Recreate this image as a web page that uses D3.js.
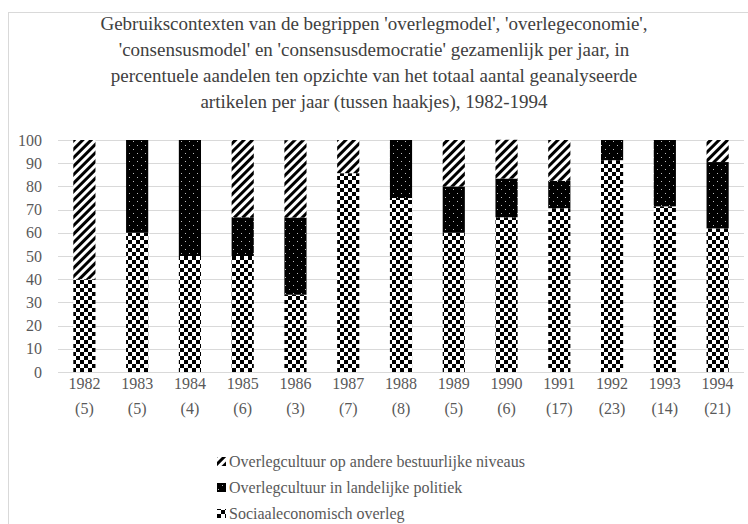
<!DOCTYPE html>
<html>
<head>
<meta charset="utf-8">
<script src="https://cdn.jsdelivr.net/npm/d3@7"></script>
<style>
body { margin: 0; background: #fff; }
#chart { position: relative; width: 748px; height: 524px; overflow: hidden; }
#chart svg { display: block; position: absolute; left: 0; top: 0; }
#title { position: absolute; left: 0; top: 11px; width: 748px; text-align: center;
  font-family: "Liberation Serif"; font-size: 19px; line-height: 26px; color: #404040; }
</style>
</head>
<body>
<div id="chart"></div>
<script>
var years = ["1982", "1983", "1984", "1985", "1986", "1987", "1988", "1989", "1990", "1991", "1992", "1993", "1994"];
var counts = ["(5)", "(5)", "(4)", "(6)", "(3)", "(7)", "(8)", "(5)", "(6)", "(17)", "(23)", "(14)", "(21)"];
var sociaal = [40, 60, 50, 50, 33.3, 85.7, 75, 60, 66.7, 70.6, 91.3, 71.4, 61.9];
var landelijk = [0, 40, 50, 16.7, 33.3, 0, 25, 20, 16.7, 11.8, 8.7, 28.6, 28.6];
var andere = [60, 0, 0, 33.3, 33.3, 14.3, 0, 20, 16.7, 17.6, 0, 0, 9.5];
var seriesNames = ["Overlegcultuur op andere bestuurlijke niveaus", "Overlegcultuur in landelijke politiek", "Sociaaleconomisch overleg"];
var yTicks = [0, 10, 20, 30, 40, 50, 60, 70, 80, 90, 100];
var titleLines = [
  "Gebruikscontexten van de begrippen 'overlegmodel', 'overlegeconomie',",
  "'consensusmodel' en 'consensusdemocratie' gezamenlijk per jaar, in",
  "percentuele aandelen ten opzichte van het totaal aantal geanalyseerde",
  "artikelen per jaar (tussen haakjes), 1982-1994"
];

var width = 748, height = 524;
var margin = {top: 140, right: 4, bottom: 152, left: 58};
var serif = "Liberation Serif";

var svg = d3.select("#chart").append("svg")
  .attr("width", width)
  .attr("height", height)
  .attr("font-family", serif);

// title as html on top of the svg
d3.select("#chart").append("div")
  .attr("id", "title")
  .selectAll("div")
  .data(titleLines)
  .enter().append("div")
  .text(function (d) { return d; });

// patterns
var defs = svg.append("defs");
var checker = defs.append("pattern")
  .attr("id", "pSoc")
  .attr("patternUnits", "userSpaceOnUse")
  .attr("width", 8).attr("height", 8);
checker.append("rect").attr("width", 8).attr("height", 8).attr("fill", "#fff");
checker.append("rect").attr("width", 4).attr("height", 4).attr("fill", "#000");
checker.append("rect").attr("x", 4).attr("y", 4).attr("width", 4).attr("height", 4).attr("fill", "#000");

var dots = defs.append("pattern")
  .attr("id", "pLand")
  .attr("patternUnits", "userSpaceOnUse")
  .attr("width", 8).attr("height", 8);
dots.append("rect").attr("width", 8).attr("height", 8).attr("fill", "#000");
dots.append("rect").attr("x", 1).attr("y", 1).attr("width", 1).attr("height", 1).attr("fill", "#bbb");
dots.append("rect").attr("x", 5).attr("y", 5).attr("width", 1).attr("height", 1).attr("fill", "#bbb");

var stripes = defs.append("pattern")
  .attr("id", "pAndere")
  .attr("patternUnits", "userSpaceOnUse")
  .attr("width", 6).attr("height", 6)
  .attr("patternTransform", "rotate(45)");
stripes.append("rect").attr("width", 6).attr("height", 6).attr("fill", "#fff");
stripes.append("rect").attr("width", 3).attr("height", 6).attr("fill", "#000");

var fills = ["url(#pAndere)", "url(#pLand)", "url(#pSoc)"];

// outer border
svg.append("rect")
  .attr("x", 8.5).attr("y", 12.5)
  .attr("width", 760).attr("height", 540)
  .attr("fill", "none")
  .attr("stroke", "#d9d9d9");

var x = d3.scaleBand()
  .domain(years)
  .range([margin.left, width - margin.right])
  .paddingInner(0.58)
  .paddingOuter(0.29);

var y = d3.scaleLinear()
  .domain([0, 100])
  .range([height - margin.bottom, margin.top]);

// gridlines
svg.append("g").selectAll("line")
  .data(yTicks)
  .enter().append("line")
  .attr("x1", margin.left)
  .attr("x2", width - margin.right)
  .attr("y1", function (d) { return Math.round(y(d)) + 0.5; })
  .attr("y2", function (d) { return Math.round(y(d)) + 0.5; })
  .attr("stroke", "#d9d9d9");

var yAxis = svg.append("g")
  .attr("transform", "translate(" + (margin.left - 16) + ",0)")
  .call(d3.axisLeft(y).tickValues(yTicks).tickSize(0).tickPadding(0));
yAxis.attr("font-family", serif).attr("font-size", 16);
yAxis.select(".domain").remove();
yAxis.selectAll("text")
  .attr("fill", "#595959");

// stacked data: bottom to top sociaal, landelijk, andere
var rows = years.map(function (yr, i) {
  return {year: yr, sociaal: sociaal[i], landelijk: landelijk[i], andere: andere[i]};
});
var stack = d3.stack().keys(["sociaal", "landelijk", "andere"]);
var stacked = stack(rows);
var fillByKey = {sociaal: "url(#pSoc)", landelijk: "url(#pLand)", andere: "url(#pAndere)"};

svg.append("g").selectAll("g")
  .data(stacked)
  .enter().append("g")
  .attr("fill", function (d) { return fillByKey[d.key]; })
  .selectAll("rect")
  .data(function (d) { return d; })
  .enter().append("rect")
  .attr("x", function (d) { return x(d.data.year); })
  .attr("width", x.bandwidth())
  .attr("y", function (d) { return y(d[1]); })
  .attr("height", function (d) { return y(d[0]) - y(d[1]); });

// x labels
var xl = svg.append("g").selectAll("g")
  .data(years)
  .enter().append("g")
  .attr("transform", function (d) { return "translate(" + (x(d) + x.bandwidth() / 2) + ",0)"; });
xl.append("text")
  .attr("y", 389)
  .attr("text-anchor", "middle")
  .attr("font-size", 16)
  .attr("fill", "#595959")
  .text(function (d) { return d; });
xl.append("text")
  .attr("y", 414)
  .attr("text-anchor", "middle")
  .attr("font-size", 16)
  .attr("fill", "#595959")
  .text(function (d, i) { return counts[i]; });

// legend
var lg = svg.append("g").selectAll("g")
  .data(seriesNames)
  .enter().append("g")
  .attr("transform", function (d, i) { return "translate(217," + (462 + i * 26) + ")"; });
lg.append("rect")
  .attr("x", 0).attr("y", -5)
  .attr("width", 9).attr("height", 9)
  .attr("fill", function (d, i) { return fills[i]; });
lg.append("text")
  .attr("x", 12)
  .attr("y", 5)
  .attr("font-size", 16)
  .attr("fill", "#595959")
  .text(function (d) { return d; });
</script>
</body>
</html>
